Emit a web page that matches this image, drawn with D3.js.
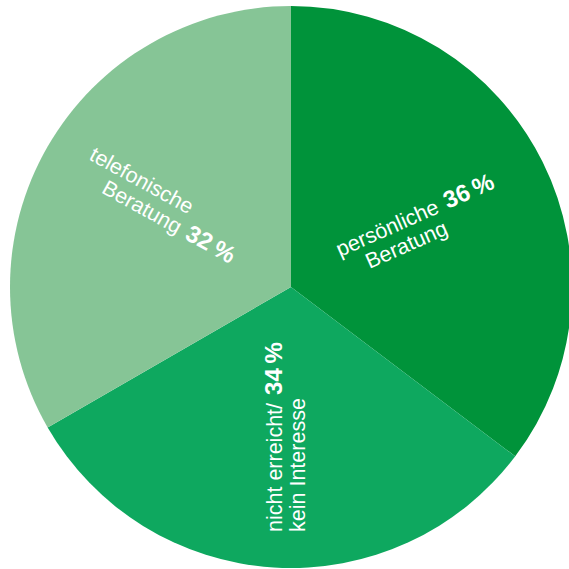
<!DOCTYPE html>
<html><head><meta charset="utf-8">
<script src="https://cdn.jsdelivr.net/npm/d3@7"></script>
<style>html,body{margin:0;padding:0;background:#fff;}svg{display:block;}</style>
</head><body>
<div id="chart"></div>
<script>
// slice order clockwise from 12 o'clock, shares as drawn
const categories = ["persönliche Beratung", "nicht erreicht/ kein Interesse", "telefonische Beratung"];
const shares = [36, 32, 34];
const labelPercents = ["36", "34", "32"];
const labelLines = [["persönliche", "Beratung"], ["nicht erreicht/", "kein Interesse"], ["telefonische", "Beratung"]];
const colors = ["#00933a", "#0ea85f", "#86c596"];

const W = 569, H = 569, cx = 291, cy = 287, R = 281;
const svg = d3.select("#chart").append("svg").attr("width", W).attr("height", H);
const g = svg.append("g").attr("transform", `translate(${cx},${cy})`);
const pie = d3.pie().sort(null).value(d => d)(shares);
const arc = d3.arc().innerRadius(0).outerRadius(R);
g.selectAll("path").data(pie).join("path")
  .attr("d", arc).attr("fill", (d, i) => colors[i]);

// label layout: anchor (relative to centre), rotation, second-line indent
const layout = [
  {x: 49, y: -30, rot: -24, indent: 22, pctLine: 0},
  {x: -9, y: 245, rot: -90, indent: 0, pctLine: 0},
  {x: -203, y: -128, rot: 29, indent: 27, pctLine: 1}
];
const font = "'Liberation Sans', Arial, sans-serif";
layout.forEach((L, i) => {
  const t = g.append("text")
    .attr("transform", `translate(${L.x},${L.y}) rotate(${L.rot})`)
    .attr("fill", "#fff").style("font-family", font).style("font-size", "21.5px");
  labelLines[i].forEach((line, j) => {
    t.append("tspan").attr("x", j ? L.indent : 0).attr("dy", j ? 23 : 0).text(line);
    if (j === L.pctLine) {
      t.append("tspan").attr("dx", 8).style("font-weight", "bold").style("font-size", "24px")
        .text(labelPercents[i] + "\u202F%");
    }
  });
});
</script>
</body></html>
